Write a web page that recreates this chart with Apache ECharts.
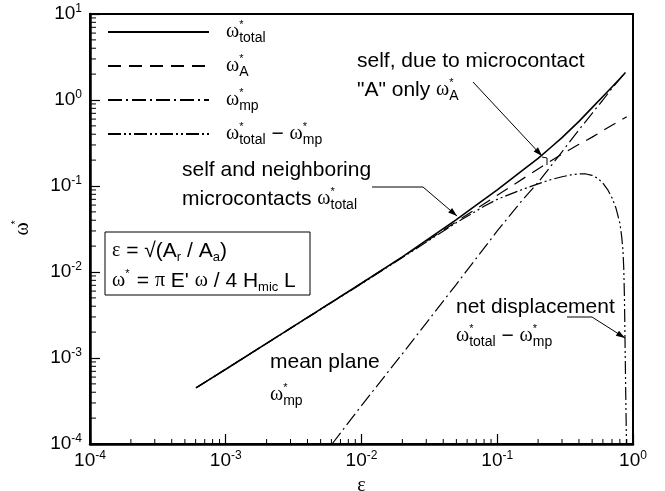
<!DOCTYPE html>
<html><head><meta charset="utf-8">
<script src="https://cdn.jsdelivr.net/npm/echarts@6/dist/echarts.min.js"></script>
<style>html,body{margin:0;padding:0;background:#fff}#c{width:665px;height:491px}</style>
</head><body><div id="c"></div>
<script>
// ---- data ----
const epsTotal   = [0.000604, 0.001, 0.002, 0.005, 0.01, 0.02, 0.03, 0.05, 0.07, 0.1, 0.15, 0.2, 0.25, 0.3, 0.35, 0.4, 0.5, 0.6, 0.7, 0.8, 0.88];
const omegaTotal = [4.5e-4, 7.4e-4, 1.48e-3, 3.7e-3, 7.4e-3, 1.5e-2, 2.33e-2, 4.07e-2, 5.99e-2, 9.0e-2, 0.1476, 0.209, 0.284, 0.365, 0.461, 0.565, 0.815, 1.10, 1.414, 1.77, 2.09];

const epsA   = [0.000604, 0.001, 0.01, 0.02, 0.05, 0.1, 0.2, 0.3, 0.4, 0.5, 0.6, 0.7, 0.8, 0.9];
const omegaA = [4.5e-4, 7.4e-4, 7.4e-3, 1.49e-2, 3.85e-2, 0.078, 0.158, 0.235, 0.305, 0.37, 0.44, 0.51, 0.575, 0.64];

const epsMp   = [0.00607, 0.01, 0.02, 0.05, 0.1, 0.15, 0.2, 0.3, 0.4, 0.5, 0.6, 0.7, 0.8, 0.88];
const omegaMp = [1e-4, 2.8e-4, 1.12e-3, 7.2e-3, 0.03, 0.066, 0.11, 0.25, 0.45, 0.7, 1.0, 1.37, 1.76, 2.09];

const epsNet   = [0.000604, 0.001, 0.01, 0.02, 0.05, 0.08, 0.1, 0.15, 0.2, 0.25, 0.3, 0.35, 0.4, 0.45, 0.5, 0.55, 0.6, 0.65, 0.7, 0.75, 0.8, 0.825, 0.843, 0.855, 0.865, 0.873, 0.882, 0.892, 0.9];
const omegaNet = [4.5e-4, 7.4e-4, 7.3e-3, 1.47e-2, 3.75e-2, 0.058, 0.07, 0.09, 0.106, 0.119, 0.128, 0.135, 0.138, 0.138, 0.133, 0.123, 0.108, 0.091, 0.073, 0.055, 0.037, 0.026, 0.018, 0.011, 0.005, 0.0017, 5e-4, 1.5e-4, 5e-5];

const xTickExponents = [-4, -3, -2, -1, 0];
const yTickExponents = [-4, -3, -2, -1, 0, 1];
const xName = 'ε';

// ---- chart ----
const zip = (a, b) => a.map((v, i) => [v, b[i]]);
const minorX = [], minorY = [];
for (let k = -4; k < 0; k++) for (let m = 2; m <= 9; m++) minorX.push([m * Math.pow(10, k), 1e-4]);
for (let k = -4; k < 1; k++) for (let m = 2; m <= 9; m++) minorY.push([1e-4, m * Math.pow(10, k)]);

const SANS = 'Liberation Sans';
const SERIF = 'Liberation Serif';
const R = {
  t:   {fontSize: 21, fontFamily: SANS, color: '#000', lineHeight: 26, verticalAlign: 'middle'},
  w:   {fontSize: 20, fontFamily: SERIF, color: '#000', lineHeight: 26, verticalAlign: 'middle'},
  a:   {fontSize: 11, fontFamily: SANS, color: '#000', lineHeight: 12, verticalAlign: 'top', width: 0, align: 'left'},
  sub: {fontSize: 14, fontFamily: SANS, color: '#000', lineHeight: 12, verticalAlign: 'bottom'},
  bsub:{fontSize: 13, fontFamily: SANS, color: '#000', lineHeight: 10, verticalAlign: 'bottom'},
  pad: {fontSize: 14, fontFamily: SANS, width: 12}
};
const W = (s) => '{w|ω}{a|*}{sub|' + s + '}';
const legendLabels = {
  total: '{pad|}' + W('total'),
  A: '{pad|}' + W('A'),
  mp: '{pad|}' + W('mp'),
  net: '{pad|}' + W('total') + '{t| − }' + W('mp')
};

const expFmt = (arr) => (v) => {
  const e = Math.round(Math.log10(v));
  return arr.indexOf(e) >= 0 ? '{b|10}{s|' + e + '}' : '';
};
const tickRich = {
  b: {fontSize: 19, fontFamily: SANS, color: '#000', lineHeight: 22, verticalAlign: 'middle'},
  s: {fontSize: 12, fontFamily: SANS, color: '#000', lineHeight: 12, verticalAlign: 'top'}
};

const lineSeries = (name, data, width, type) => ({
  name, type: 'line', data, symbol: 'none', symbolSize: 0, showSymbol: false, smooth: false, clip: true,
  lineStyle: {color: '#000', width, type}, itemStyle: {color: '#000'},
  silent: true, z: 3
});

const minorTick = (data, horiz) => ({
  type: 'custom', data, silent: true, clip: false, z: 4,
  renderItem: (params, api) => {
    const p = api.coord([api.value(0), api.value(1)]);
    const shape = horiz ? {x1: p[0], y1: p[1], x2: p[0] + 6, y2: p[1]}
                        : {x1: p[0], y1: p[1], x2: p[0], y2: p[1] - 5};
    return {type: 'line', shape, style: {stroke: '#000', lineWidth: 1}};
  }
});

function arrowHead(x1, y1, x2, y2) {
  const ang = Math.atan2(y2 - y1, x2 - x1), L = 9, Wd = 3;
  const bx = x2 - L * Math.cos(ang), by = y2 - L * Math.sin(ang);
  const nx = -Math.sin(ang) * Wd, ny = Math.cos(ang) * Wd;
  return {type: 'polygon', shape: {points: [[x2, y2], [bx + nx, by + ny], [bx - nx, by - ny]]}, style: {fill: '#000'}, z: 10};
}
const txt = (x, y, text) => ({type: 'text', x, y, z: 10, style: {text, rich: R, fontSize: 21, fontFamily: SANS, fill: '#000', textVerticalAlign: 'middle', textAlign: 'left'}});
const poly = (pts) => ({type: 'polyline', shape: {points: pts}, style: {stroke: '#000', lineWidth: 1, fill: null}, z: 10});

const chart = echarts.init(document.getElementById('c'), null, {renderer: 'canvas'});
chart.setOption({
  animation: false,
  backgroundColor: '#fff',
  grid: {left: 90, right: 32, top: 14, bottom: 47, show: true, borderColor: '#000', borderWidth: 2, backgroundColor: 'transparent', containLabel: false, outerBoundsMode: 'none'},
  xAxis: {
    type: 'log', logBase: 10, min: 1e-4, max: 1,
    name: xName, nameLocation: 'middle', nameGap: 32,
    nameTextStyle: {fontSize: 20, fontFamily: SERIF, color: '#000'},
    axisLine: {lineStyle: {color: '#000', width: 2.5}},
    axisTick: {inside: true, length: 10, lineStyle: {color: '#000', width: 1.2}},
    axisLabel: {formatter: expFmt(xTickExponents), rich: tickRich, margin: 6, color: '#000'},
    splitLine: {show: false}, minorTick: {show: false}
  },
  yAxis: {
    type: 'log', logBase: 10, min: 1e-4, max: 10,
    name: '{w|ω}{a|*}', nameLocation: 'middle', nameGap: 54, nameRotate: 90,
    nameTextStyle: {rich: R, color: '#000'},
    axisLine: {lineStyle: {color: '#000', width: 2.5}},
    axisTick: {inside: true, length: 10, lineStyle: {color: '#000', width: 1.2}},
    axisLabel: {formatter: expFmt(yTickExponents), rich: tickRich, margin: 8, color: '#000'},
    splitLine: {show: false}
  },
  legend: {
    data: ['total', 'A', 'mp', 'net'], orient: 'vertical', left: 107, top: 19, padding: 0,
    itemWidth: 101, itemHeight: 14, itemGap: 8, selectedMode: false,
    itemStyle: {opacity: 0, borderWidth: 0},
    formatter: (n) => legendLabels[n], textStyle: {rich: R, color: '#000'}
  },
  series: [
    lineSeries('total', zip(epsTotal, omegaTotal), 1.6, 'solid'),
    lineSeries('A', zip(epsA, omegaA), 1.2, [13, 8]),
    lineSeries('mp', zip(epsMp, omegaMp), 1.2, [14, 4, 2, 4]),
    lineSeries('net', zip(epsNet, omegaNet), 1.2, [13, 3, 2, 3, 2, 3]),
    minorTick(minorX, false),
    minorTick(minorY, true)
  ],
  graphic: [
    txt(357, 61, '{t|self, due to microcontact}'),
    txt(357, 90, '{t|"A" only }' + W('A')),
    poly([[473, 82], [542, 156]]), arrowHead(473, 82, 542, 156),
    poly([[542, 157], [547, 158], [547, 165]]),
    txt(182, 170, '{t|self and neighboring}'),
    txt(182, 199, '{t|microcontacts }' + W('total')),
    poly([[372, 187], [423, 187], [457, 216]]), arrowHead(423, 187, 457, 216),
    txt(270, 362, '{t|mean plane}'),
    txt(270, 395, W('mp')),
    txt(456, 307, '{t|net displacement}'),
    txt(456, 336, W('total') + '{t| − }' + W('mp')),
    poly([[567, 317], [592, 317], [625, 338]]), arrowHead(592, 317, 625, 338),
    {type: 'rect', shape: {x: 105, y: 232, width: 205, height: 63}, style: {fill: '#fff', stroke: '#000', lineWidth: 1}, z: 9},
    txt(112, 251, '{w|ε}{t| = √(A}{bsub|r}{t| / A}{bsub|a}{t|)}'),
    txt(112, 281, '{w|ω}{a|*}{t|  = }{w|π}{t| E\' }{w|ω}{t| / 4 H}{bsub|mic}{t| L}')
  ]
});
</script></body></html>
